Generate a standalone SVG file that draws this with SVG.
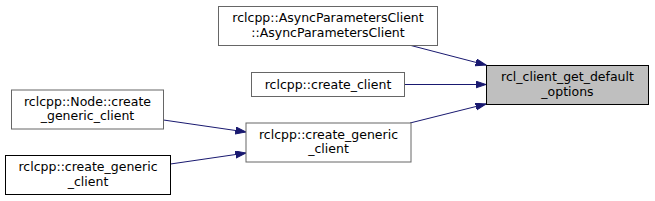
<svg xmlns="http://www.w3.org/2000/svg" width="655" height="201" viewBox="0 0 655 201">
<style>
rect{stroke-width:1}
.n rect{fill:#ffffff;stroke:#666666}
.b rect{fill:#ffffff;stroke:#000000}
.root rect{fill:#bfbfbf;stroke:#000000}
text{font-family:"DejaVu Sans",sans-serif;font-size:12.5px;fill:#000000;text-anchor:middle}
.e path{fill:none;stroke:#191970;stroke-width:1}
</style>
<defs>
<marker id="ah" markerUnits="userSpaceOnUse" markerWidth="11" markerHeight="8" refX="10.5" refY="3.5" orient="auto" viewBox="0 0 11 8">
<path d="M0,0 L10.5,3.5 L0,7 z" fill="#191970" stroke="#191970"/>
</marker>
</defs>
<rect width="655" height="201" fill="#ffffff"/>
<g id="edges" class="e">
<path d="M411,45.5 L486,65" marker-end="url(#ah)"/>
<path d="M404.5,84.5 L486,84.5" marker-end="url(#ah)"/>
<path d="M410,123 L486,104" marker-end="url(#ah)"/>
<path d="M163.5,120 L246,132" marker-end="url(#ah)"/>
<path d="M170.5,164 L246,153" marker-end="url(#ah)"/>
</g>
<g id="node_target" class="root">
<rect x="486.5" y="65.5" width="162" height="39"/>
<text x="567.5" y="81">rcl_client_get_default</text>
<text x="567.5" y="95.5">_options</text>
</g>
<g id="node_async" class="n">
<rect x="218.5" y="6.5" width="219" height="39"/>
<text x="328" y="22">rclcpp::AsyncParametersClient</text>
<text x="328" y="36.5">::AsyncParametersClient</text>
</g>
<g id="node_create_client" class="n">
<rect x="251.5" y="72.5" width="153" height="24"/>
<text x="328" y="88.5">rclcpp::create_client</text>
</g>
<g id="node_create_generic_client" class="n">
<rect x="246" y="123" width="165" height="39"/>
<text x="328.5" y="138.5">rclcpp::create_generic</text>
<text x="328.5" y="153">_client</text>
</g>
<g id="node_node_create_generic" class="n">
<rect x="11.5" y="90" width="152" height="39"/>
<text x="87.5" y="105.5">rclcpp::Node::create</text>
<text x="87.5" y="120">_generic_client</text>
</g>
<g id="node_create_generic_client2" class="b">
<rect x="5.5" y="155.5" width="165" height="39"/>
<text x="88" y="171">rclcpp::create_generic</text>
<text x="88" y="185.5">_client</text>
</g>
</svg>
